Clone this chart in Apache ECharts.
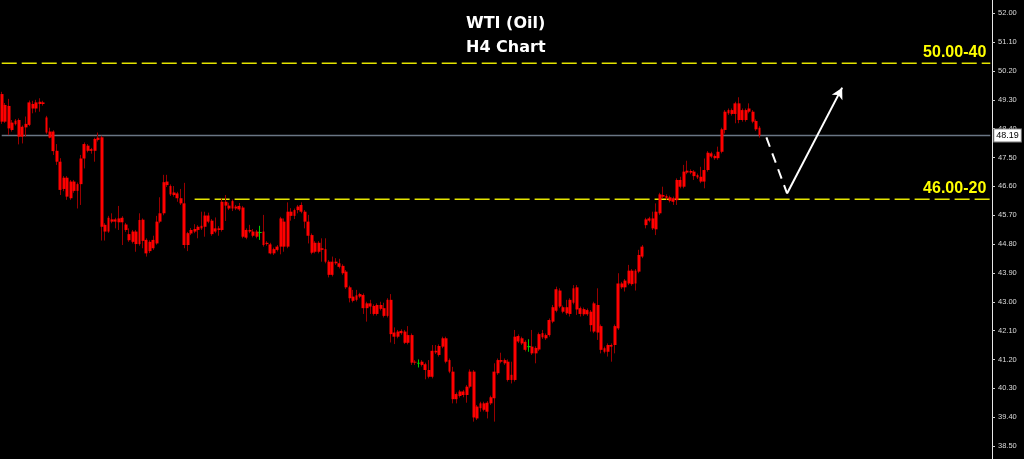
<!DOCTYPE html>
<html>
<head>
<meta charset="utf-8">
<script src="https://cdn.jsdelivr.net/npm/echarts@6/dist/echarts.min.js"></script>
<style>
html,body{margin:0;padding:0;background:#000;}
#chart{width:1024px;height:459px;}
</style>
</head>
<body>
<div id="chart"></div>
<script>
// ---- DATA ----
const titleLines = ['WTI (Oil)', 'H4 Chart'];
const tickLabels = [38.50, 39.40, 40.30, 41.20, 42.10, 43.00, 43.90, 44.80, 45.70, 46.60, 47.50, 48.40, 49.30, 50.20, 51.10, 52.00];
const axisMin = 38.094;
const axisMax = 52.415;
const slotCount = 288;
const categories = Array.from({length: slotCount}, (_, i) => String(i));

// [open, close, low, high]
const candles = [
[49.48,48.62,48.55,49.55],[48.62,49.14,48.58,49.20],[49.11,48.41,48.20,49.33],[48.36,48.59,48.31,48.67],[48.54,48.65,48.50,48.70],
[48.67,48.15,47.91,48.72],[48.15,48.46,47.94,48.50],[48.44,48.55,48.15,48.78],[48.52,49.22,48.48,49.28],[49.17,49.03,48.88,49.27],
[49.03,49.22,48.91,49.30],[49.24,49.17,48.93,49.35],[49.17,49.22,49.12,49.27],[48.75,48.28,48.24,48.80],[48.31,48.12,48.10,48.43],
[48.31,47.70,47.58,48.35],[47.71,47.37,47.27,47.92],[47.37,46.49,46.33,47.48],[46.52,46.87,46.45,46.92],[46.87,46.28,46.18,46.92],
[46.23,46.75,46.18,46.80],[46.75,46.46,46.40,46.80],[46.46,46.67,45.91,46.72],[46.67,47.47,46.02,47.58],[47.47,47.92,47.16,47.97],
[47.87,47.71,47.66,47.92],[47.71,47.76,47.62,47.80],[47.71,48.08,47.37,48.12],[48.05,48.12,48.00,48.28],[48.13,45.34,44.91,48.18],
[45.19,45.40,44.91,45.45],[45.19,45.62,45.15,45.68],[45.57,45.50,45.45,45.76],[45.50,45.57,45.29,45.62],[45.60,45.48,45.24,45.99],
[45.48,45.62,44.77,45.67],[45.41,45.24,45.18,45.46],[45.11,44.92,44.87,45.29],[44.87,45.19,44.82,45.24],[45.19,44.80,44.56,45.24],
[44.80,45.55,44.75,45.76],[45.56,44.90,44.67,45.60],[44.93,44.51,44.41,44.98],[44.58,44.87,44.52,44.92],[44.67,44.93,44.62,45.06],
[44.82,45.50,44.78,45.68],[45.50,45.76,45.45,46.26],[45.76,46.73,45.70,46.96],[46.75,46.64,46.58,46.96],[46.61,46.35,46.30,46.66],
[46.33,46.41,46.28,46.61],[46.38,46.23,46.12,46.43],[46.23,46.07,46.02,46.52],[46.07,44.77,44.67,46.71],[44.77,45.14,44.58,45.18],
[45.13,45.24,45.08,45.30],[45.19,45.27,45.14,45.42],[45.24,45.34,44.98,45.39],[45.29,45.37,45.24,45.81],[45.34,45.69,45.03,45.81],
[45.69,45.50,45.45,45.78],[45.53,45.11,45.06,45.58],[45.19,45.29,45.14,45.63],[45.29,45.24,45.06,45.36],[45.24,46.12,45.19,46.23],
[46.12,46.00,45.52,46.33],[46.00,45.91,45.86,46.09],[45.91,46.14,45.83,46.19],[45.97,45.91,45.86,46.02],[45.88,45.99,45.83,46.08],
[45.94,45.03,44.98,45.99],[45.00,45.24,44.95,45.29],[45.24,45.19,45.14,45.40],[45.19,45.06,45.01,45.27],[45.03,45.19,44.98,45.24],
[45.16,45.16,44.93,45.37],[45.19,44.77,44.72,45.71],[44.80,44.84,44.75,44.89],[44.79,44.51,44.48,44.84],[44.51,44.64,44.46,44.69],
[44.62,44.72,44.57,44.77],[44.72,45.60,44.48,45.65],[45.50,44.72,44.56,45.60],[44.72,45.81,44.67,46.10],[45.81,45.68,45.53,45.92],
[45.68,45.86,45.58,45.91],[45.86,45.97,45.76,46.02],[45.81,46.02,45.76,46.10],[45.81,45.50,45.29,45.86],[45.50,45.06,44.82,45.71],
[45.08,44.53,44.48,45.13],[44.56,44.84,44.51,44.89],[44.84,44.56,44.51,44.89],[44.62,44.67,44.25,44.98],[44.64,44.25,44.20,44.98],
[44.25,43.84,43.76,44.30],[43.84,44.25,43.79,44.41],[44.25,44.20,44.15,44.36],[44.20,44.09,44.04,44.34],[44.12,43.89,43.84,44.17],
[43.94,43.45,43.40,43.99],[43.45,43.11,42.98,43.50],[43.03,43.16,42.98,43.37],[43.06,43.20,43.01,43.37],[43.16,43.24,43.11,43.28],
[43.21,42.80,42.62,43.26],[42.80,42.95,42.38,43.00],[42.95,42.85,42.62,43.06],[42.87,42.62,42.57,42.92],[42.62,42.90,42.57,42.95],
[42.90,42.78,42.73,43.00],[42.80,42.56,42.51,42.97],[42.56,43.06,42.51,43.11],[43.06,41.99,41.73,43.24],[41.91,42.04,41.68,42.20],
[41.91,42.07,41.86,42.12],[42.09,42.02,41.97,42.14],[42.07,41.72,41.68,42.12],[41.72,41.96,41.67,42.24],[41.96,41.10,41.03,42.01],
[41.10,41.13,41.03,41.18],[41.08,41.08,40.95,41.20],[41.03,41.13,40.98,41.18],[41.05,40.87,40.58,41.10],[40.87,40.66,40.61,41.18],
[40.66,41.47,40.61,41.65],[41.47,41.42,41.37,41.65],[41.34,41.62,41.29,41.67],[41.60,41.86,41.55,41.91],[41.86,41.13,41.08,41.91],
[41.18,40.82,40.77,41.23],[40.82,39.96,39.83,40.97],[39.96,40.12,39.83,40.17],[40.06,40.20,40.01,40.25],[40.20,40.09,40.02,40.25],
[40.09,40.35,39.85,40.40],[40.35,40.82,40.30,40.89],[40.82,39.39,39.26,40.87],[39.36,39.73,39.31,39.78],[39.68,39.83,39.57,39.88],
[39.83,39.63,39.58,39.88],[39.57,39.85,39.36,39.90],[39.83,40.02,39.78,40.07],[39.99,40.82,39.26,41.08],[40.77,41.18,40.72,41.23],
[41.18,41.13,41.08,41.41],[41.08,41.18,41.03,41.23],[41.13,40.56,40.51,41.20],[40.56,40.72,40.45,41.13],[40.56,41.91,40.51,42.12],
[41.93,41.76,41.71,41.98],[41.86,41.70,41.65,41.91],[41.75,41.50,41.45,41.80],[41.60,41.60,41.44,41.83],[41.60,41.39,41.34,42.12],
[41.39,41.56,41.08,41.61],[41.51,41.99,41.46,42.04],[42.02,41.89,41.84,42.12],[41.86,41.96,41.81,42.01],[41.96,42.43,41.91,42.48],
[42.38,42.83,42.33,42.90],[42.72,43.39,42.67,43.47],[43.35,42.85,42.80,43.42],[42.83,42.69,42.64,42.88],[42.64,42.83,42.59,43.06],
[42.62,43.06,42.54,43.11],[42.97,43.42,42.92,43.52],[43.45,42.76,42.59,43.52],[42.80,42.62,42.54,42.85],[42.61,42.77,42.56,42.82],
[42.74,42.61,42.56,42.79],[42.69,42.27,42.07,42.74],[42.07,42.95,42.02,43.00],[42.90,42.04,41.81,43.42],[42.24,41.50,41.39,42.29],
[41.55,41.44,41.39,41.60],[41.44,41.65,41.29,41.70],[41.65,41.60,41.13,41.70],[41.65,42.24,41.39,42.29],[42.17,43.57,42.12,43.89],
[43.57,43.45,43.40,43.62],[43.45,43.66,43.32,43.71],[43.57,43.97,43.52,44.15],[43.97,43.55,43.50,44.02],[43.57,43.97,43.35,44.02],
[43.94,44.46,43.89,44.62],[44.41,44.72,44.36,44.77],[45.39,45.57,45.29,45.62],[45.60,45.53,45.48,45.65],[45.60,45.29,45.24,45.81],
[45.26,45.81,45.08,46.07],[45.76,46.35,45.71,46.40],[46.33,46.28,46.23,46.59],[46.30,46.23,46.18,46.35],[46.26,46.15,46.10,46.31],
[46.12,46.23,46.02,46.28],[46.17,46.80,46.02,46.85],[46.80,46.59,46.54,46.90],[46.59,47.06,46.54,47.27],[47.03,47.09,46.98,47.40],
[47.08,47.03,46.98,47.13],[47.06,46.92,46.80,47.11],[46.95,46.88,46.83,47.00],[46.90,46.75,46.70,47.21],[46.75,47.11,46.54,47.47],
[47.11,47.65,47.06,47.70],[47.63,47.53,47.48,47.68],[47.55,47.48,47.43,47.60],[47.48,47.68,47.43,47.84],[47.68,48.38,47.63,48.43],
[48.36,48.93,48.25,48.98],[48.98,48.88,48.83,49.03],[48.86,48.98,48.81,49.03],[48.86,49.19,48.57,49.24],[49.19,48.67,48.57,49.38],
[48.67,48.98,48.62,49.03],[48.98,48.67,48.62,49.03],[48.93,49.03,48.88,49.19],[48.93,48.62,48.57,48.98],[48.64,48.38,48.33,48.69],
[48.43,48.19,48.12,48.48]
];
const dojiBars = [75, 121, 153];

const lastPrice = 48.19;
const upperZone = 50.44;
const upperZoneLabel = '50.00-40';
const lowerZone = 46.20;
const lowerZoneLabel = '46.00-20';
const levelStartBar = 0;
const lowerZoneStartBar = 56;
const levelEndBar = 287;

// projected path: down (dashed) then up (arrow)
const projBars = [222, 228, 244];
const projPrices = [48.13, 46.38, 49.68];

// ---- BUILD ----
const GREEN = '#00d000';
const YELLOW_LINE = '#e4e400';
const wickData = candles.map((d, i) => dojiBars.includes(i)
  ? {value: d, itemStyle: {color: GREEN, color0: GREEN, borderColor: GREEN, borderColor0: GREEN}}
  : d);
const bodyData = candles.map((d, i) => {
  const lo = Math.min(d[0], d[1]), hi = Math.max(d[0], d[1]);
  const v = [d[0], d[1], lo, hi];
  return dojiBars.includes(i)
    ? {value: v, itemStyle: {borderWidth: 1, borderColor: GREEN, borderColor0: GREEN}}
    : v;
});

const zoneEndLabel = (text) => ({
  show: true, formatter: text, distance: 0, align: 'right', verticalAlign: 'middle', offset: [-4, -11],
  color: '#ffff00', fontSize: 16, fontWeight: 'bold', fontFamily: 'Liberation Sans'
});
const levelSeries = (name, startBar, price, color, type, width, endLabel) => ({
  name, type: 'line',
  data: [[String(startBar), price], [String(levelEndBar), price]],
  symbol: 'none', silent: true, z: 1, clip: false,
  color,
  lineStyle: {color, width, type},
  emphasis: {disabled: true},
  endLabel
});

const chart = echarts.init(document.getElementById('chart'), null, {renderer: 'canvas'});
chart.setOption({
  backgroundColor: '#000',
  animation: false,
  title: {
    text: titleLines.join('\n'),
    left: 466,
    top: 12,
    padding: 0,
    textStyle: {color: '#fff', fontSize: 16, fontWeight: 'bold', fontFamily: 'DejaVu Sans', lineHeight: 24, align: 'center'}
  },
  grid: {left: 0, right: 32, top: 0, bottom: 0},
  xAxis: {
    type: 'category',
    data: categories,
    boundaryGap: true,
    axisLine: {show: false}, axisTick: {show: false}, axisLabel: {show: false}, splitLine: {show: false}
  },
  yAxis: {
    type: 'value',
    position: 'right',
    min: axisMin,
    max: axisMax,
    scale: true,
    splitLine: {show: false},
    axisLine: {show: true, lineStyle: {color: '#e6e6e6', width: 1}},
    axisTick: {show: true, length: 3, customValues: tickLabels, lineStyle: {color: '#cfcfcf'}},
    axisLabel: {
      customValues: tickLabels,
      margin: 6,
      color: '#dcdcdc',
      fontSize: 7.5,
      fontFamily: 'Liberation Sans',
      formatter: v => Number(v).toFixed(2)
    }
  },
  series: [
    levelSeries('upperZone', levelStartBar, upperZone, YELLOW_LINE, [15, 5], 1.6, zoneEndLabel(upperZoneLabel)),
    levelSeries('lowerZone', lowerZoneStartBar, lowerZone, YELLOW_LINE, [15, 5], 1.6, zoneEndLabel(lowerZoneLabel)),
    levelSeries('lastPrice', levelStartBar, lastPrice, '#6a7684', 'solid', 1.5, {
      show: true, formatter: lastPrice.toFixed(2), distance: 4, align: 'left', verticalAlign: 'middle',
      backgroundColor: '#ffffff', color: '#000', fontSize: 9, fontFamily: 'Liberation Sans',
      padding: [2, 2, 1, 2], borderColor: '#888', borderWidth: 1
    }),
    {
      name: 'wicks',
      type: 'candlestick',
      data: wickData,
      barWidth: 1,
      silent: true,
      z: 2,
      itemStyle: {color: '#990000', color0: '#990000', borderColor: '#990000', borderColor0: '#990000', borderWidth: 1}
    },
    {
      name: 'bodies',
      type: 'candlestick',
      data: bodyData,
      barWidth: 3.4,
      silent: true,
      z: 3,
      itemStyle: {color: '#ff0000', color0: '#ff0000', borderColor: '#ff0000', borderColor0: '#ff0000', borderWidth: 0}
    },
    {
      name: 'projectionDown',
      type: 'line',
      data: [[String(projBars[0]), projPrices[0]], [String(projBars[1]), projPrices[1]]],
      symbol: 'none',
      silent: true,
      z: 4,
      color: '#ffffff',
      lineStyle: {color: '#ffffff', width: 2, type: [10, 7]}
    },
    {
      name: 'projectionUp',
      type: 'line',
      data: [],
      silent: true,
      z: 4,
      markLine: {
        silent: true, animation: false,
        symbol: ['none', 'arrow'], symbolSize: [9, 11],
        label: {show: false},
        lineStyle: {color: '#ffffff', width: 2, type: 'solid'},
        data: [[
          {coord: [String(projBars[1]), projPrices[1]]},
          {coord: [String(projBars[2]), projPrices[2]]}
        ]]
      }
    }
  ]
});
</script>
</body>
</html>
